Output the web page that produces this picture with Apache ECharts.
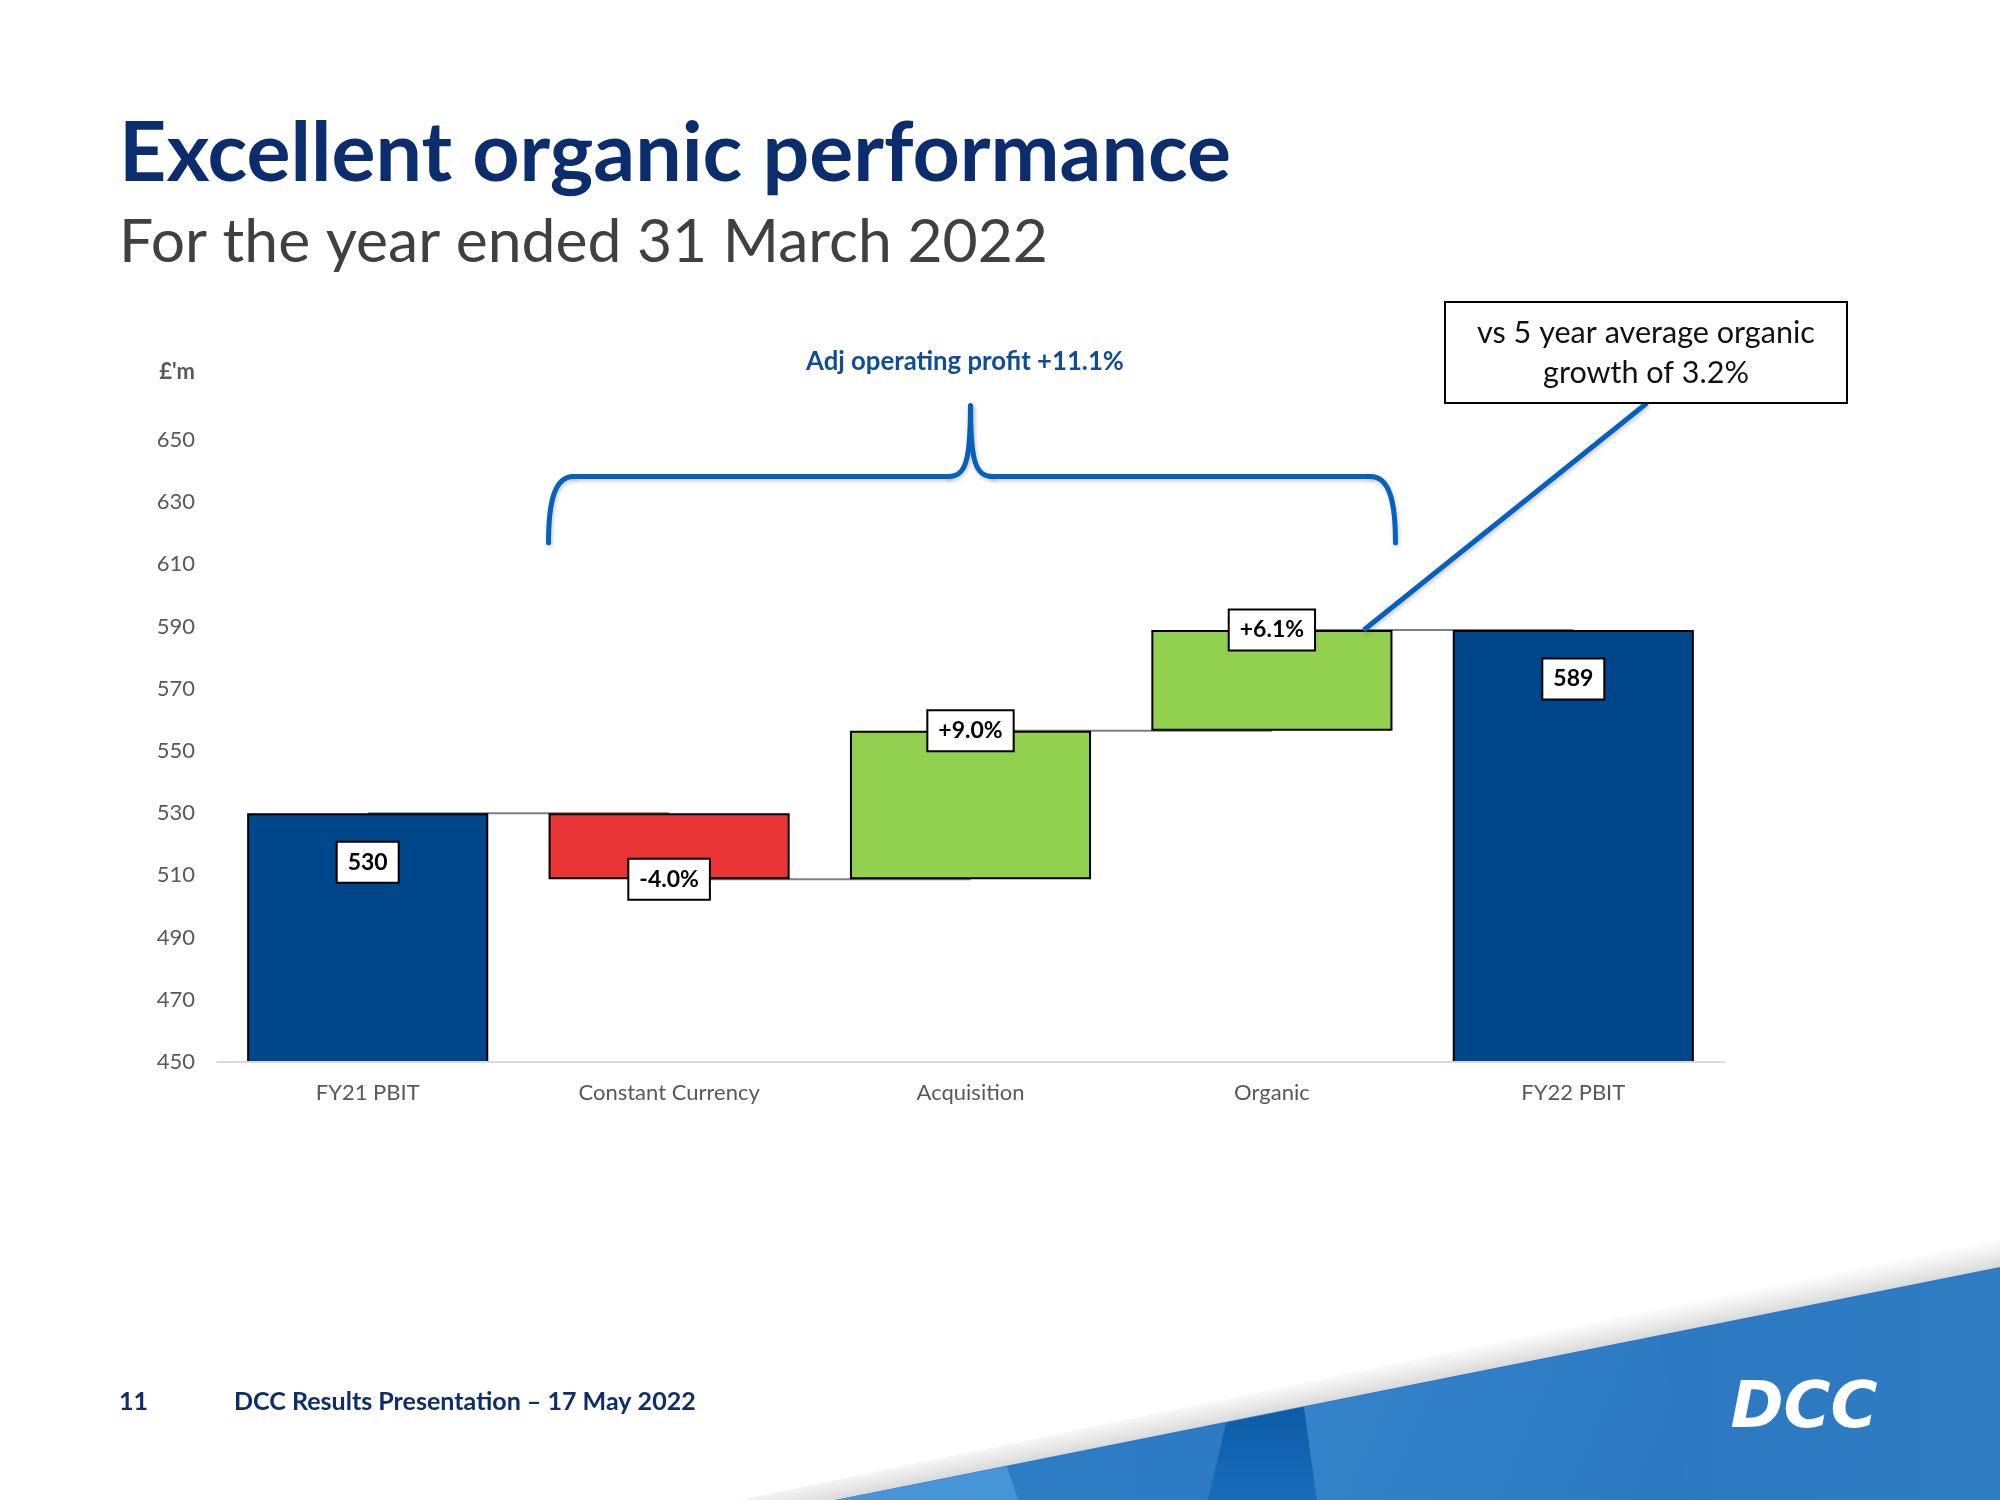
<!DOCTYPE html>
<html><head><meta charset="utf-8">
<script src="https://cdn.jsdelivr.net/npm/echarts@6/dist/echarts.min.js"></script>
<style>html,body{margin:0;padding:0;background:#fff}#c{width:2000px;height:1500px}</style>
</head><body><div id="c"></div>
<script>
// ---------------- data ----------------
const categories = ['FY21 PBIT', 'Constant Currency', 'Acquisition', 'Organic', 'FY22 PBIT'];
const openingValue = 530;                 // FY21 PBIT, £'m
const changeValues = [-21.2, 47.7, 32.4]; // Constant Currency, Acquisition, Organic
const closingValue = 588.9;               // FY22 PBIT, £'m
const barLabels = ['530', '-4.0%', '+9.0%', '+6.1%', '589'];
const yMin = 450, yMax = 650, yInterval = 20;
const unitLabel = "£'m";
const braceText = 'Adj operating profit +11.1%';
const calloutLines = ['vs 5 year average organic', 'growth of 3.2%'];
const titleText = 'Excellent organic performance';
const subtitleText = 'For the year ended 31 March 2022';
const pageNumber = '11';
const footerText = 'DCC Results Presentation \u2013 17 May 2022';

// ---------------- build waterfall ----------------
const FONT = 'Lato, "Open Sans", sans-serif';
const COL = { total: '#00468A', neg: '#E93536', pos: '#92D050' };
const placeholder = [], heights = [], kinds = [], tops = [], levels = [];
placeholder.push(0); heights.push(openingValue); kinds.push('total'); tops.push(openingValue);
let running = openingValue;
levels.push(running);
changeValues.forEach(c => {
  const next = running + c;
  placeholder.push(Math.min(running, next));
  heights.push(Math.abs(c));
  kinds.push(c < 0 ? 'neg' : 'pos');
  tops.push(Math.max(running, next));
  running = next;
  levels.push(running);
});
placeholder.push(0); heights.push(closingValue); kinds.push('total'); tops.push(closingValue);

const labelBase = {
  show: true, align: 'center', verticalAlign: 'middle',
  backgroundColor: '#fff', borderColor: '#000', borderWidth: 2,
  padding: [9, 10, 7, 10], fontSize: 23, fontWeight: 'bold', color: '#000', fontFamily: FONT
};
const visibleData = heights.map((v, i) => {
  let pos;
  if (kinds[i] === 'total') pos = ['50%', 49];
  else if (kinds[i] === 'neg') pos = ['50%', '100%'];
  else pos = ['50%', '0%'];
  return {
    value: v,
    itemStyle: { color: COL[kinds[i]] },
    label: Object.assign({}, labelBase, { position: pos, formatter: barLabels[i] })
  };
});

const chart = echarts.init(document.getElementById('c'), null, { renderer: 'canvas' });

const option = {
  backgroundColor: '#ffffff',
  animation: false,
  textStyle: { fontFamily: FONT },
  grid: { left: 217, right: 276, top: 440, bottom: 438, containLabel: false },
  xAxis: {
    type: 'category', data: categories, z: 10,
    axisLine: { lineStyle: { color: '#D9D9D9', width: 2 } },
    axisTick: { show: false },
    axisLabel: { color: '#595959', fontSize: 22, margin: 20, fontFamily: FONT }
  },
  yAxis: {
    type: 'value', min: yMin, max: yMax, interval: yInterval,
    axisLine: { show: false }, axisTick: { show: false },
    splitLine: { show: false },
    axisLabel: { color: '#595959', fontSize: 22, margin: 22, fontFamily: FONT }
  },
  series: [
    {
      type: 'custom', z: 1, silent: true,
      data: levels.map((v, i) => [i, v]),
      renderItem: function (params, api) {
        const a = api.coord([api.value(0), api.value(1)]);
        const b = api.coord([api.value(0) + 1, api.value(1)]);
        return { type: 'line', shape: { x1: a[0], y1: a[1], x2: b[0], y2: b[1] },
                 style: { stroke: '#7F7F7F', lineWidth: 2 } };
      }
    },
    {
      type: 'bar', stack: 'wf', silent: true, barCategoryGap: '20%', z: 2,
      itemStyle: { color: 'rgba(0,0,0,0)' },
      data: placeholder
    },
    {
      type: 'bar', stack: 'wf', barCategoryGap: '20%', z: 3,
      itemStyle: { borderColor: '#000', borderWidth: 2 },
      data: visibleData
    }
  ]
};
chart.setOption(option);

// ---------------- annotations ----------------
const ctx = document.createElement('canvas').getContext('2d');
function fit(text, weight, target) {
  ctx.font = weight + ' 100px ' + FONT;
  return 100 * target / ctx.measureText(text).width;
}
const px = (c, v) => chart.convertToPixel({ gridIndex: 0 }, [c, v]);
const band = px(1, yMin)[0] - px(0, yMin)[0];
const half = band * 0.4;

// brace geometry anchored to the chart scales
const xL = px(1, yMin)[0] - half, xR = px(3, yMin)[0] + half + 3, xC = px(2, yMin)[0];
const yB = px(0, 617)[1], yH = px(0, 638.3)[1], yP = px(0, 661)[1];
const braceStyle = { stroke: '#0561BE', lineWidth: 5, fill: null, lineCap: 'round',
  shadowBlur: 4, shadowOffsetX: 1, shadowOffsetY: 2, shadowColor: 'rgba(0,0,0,0.22)' };
const braceParts = [
  { type: 'bezierCurve', shape: { x1: xL, y1: yB, cpx1: xL, cpy1: yB - 41, cpx2: xL + 6, cpy2: yH, x2: xL + 25, y2: yH } },
  { type: 'line', shape: { x1: xL + 25, y1: yH, x2: xC - 22, y2: yH } },
  { type: 'bezierCurve', shape: { x1: xC - 22, y1: yH, cpx1: xC - 5, cpy1: yH, cpx2: xC, cpy2: yH - 15, x2: xC, y2: yP } },
  { type: 'bezierCurve', shape: { x1: xC, y1: yP, cpx1: xC, cpy1: yH - 15, cpx2: xC + 5, cpy2: yH, x2: xC + 22, y2: yH } },
  { type: 'line', shape: { x1: xC + 22, y1: yH, x2: xR - 25, y2: yH } },
  { type: 'bezierCurve', shape: { x1: xR - 25, y1: yH, cpx1: xR - 6, cpy1: yH, cpx2: xR, cpy2: yB - 41, x2: xR, y2: yB } }
].map(p => Object.assign(p, { z: 6, silent: true, style: Object.assign({}, braceStyle) }));

const organicTop = px(3, tops[3]);
const leaderEnd = [organicTop[0] + band * 0.305, organicTop[1]];

const titleSize = fit(titleText, 'bold', 1112);
const subSize = fit(subtitleText, 'normal', 929);
const footSize = fit(footerText, 'bold', 462);
const braceSize = fit(braceText, 'bold', 318);
const calloutSize = fit(calloutLines[0], 'normal', 338);

const box = { x: 1445, y: 302, w: 402, h: 101 };

const graphics = [
  // background swoosh
  { type: 'polygon', z: 0, silent: true,
    shape: { points: [[740, 1500], [2000, 1239], [2000, 1270], [835, 1500]] },
    style: { fill: new echarts.graphic.LinearGradient(1600, 1318, 1606, 1348,
      [{ offset: 0, color: '#FFFFFF' }, { offset: 0.55, color: '#EBEBEB' }, { offset: 1, color: '#D6D6D6' }], true) } },
  { type: 'polygon', z: 0, silent: true,
    shape: { points: [[835, 1500], [2000, 1267], [2000, 1500]] },
    style: { fill: new echarts.graphic.LinearGradient(0, 0, 1, 0,
      [{ offset: 0, color: '#2F80C8' }, { offset: 0.5, color: '#2A77C0' }, { offset: 1, color: '#2F7CC3' }]) } },
  { type: 'polygon', z: 0, silent: true,
    shape: { points: [[835, 1500], [1007, 1466], [1018, 1500]] },
    style: { fill: '#4795D6' } },
  { type: 'polygon', z: 0, silent: true,
    shape: { points: [[1226, 1423], [1304, 1407], [1317, 1500], [1208, 1500]] },
    style: { fill: new echarts.graphic.LinearGradient(0, 0, 0, 1,
      [{ offset: 0, color: '#0C5CA8' }, { offset: 1, color: '#1A6CB8' }]) } },
  { type: 'polygon', z: 0, silent: true,
    shape: { points: [[1304, 1407], [1660, 1336], [1690, 1500], [1317, 1500]] },
    style: { fill: new echarts.graphic.LinearGradient(0, 0, 1, 1,
      [{ offset: 0, color: '#3584CA' }, { offset: 1, color: '#2B78C0' }]) } },
  { type: 'text', z: 1, silent: true,
    style: { text: 'DCC', x: 1804, y: 1410, align: 'center', verticalAlign: 'middle',
      font: 'italic bold 64px "DejaVu Sans", sans-serif', fill: '#FFFFFF' } },

  // titles
  { type: 'text', z: 5, silent: true,
    style: { text: titleText, x: 119, y: 181 - 0.32 * titleSize, align: 'left', verticalAlign: 'middle',
      font: `bold ${titleSize}px ${FONT}`, fill: '#0B2D6E' } },
  { type: 'text', z: 5, silent: true,
    style: { text: subtitleText, x: 119, y: 262 - 0.32 * subSize, align: 'left', verticalAlign: 'middle',
      font: `normal ${subSize}px ${FONT}`, fill: '#404040' } },

  // unit label
  { type: 'text', z: 5, silent: true,
    style: { text: unitLabel, x: 195, y: 372, align: 'right', verticalAlign: 'middle',
      font: `bold 22px ${FONT}`, fill: '#595959' } },

  // brace label
  { type: 'text', z: 6, silent: true,
    style: { text: braceText, x: 965, y: 362, align: 'center', verticalAlign: 'middle',
      font: `bold ${braceSize}px ${FONT}`, fill: '#0F4C9A' } },

  // callout
  { type: 'line', z: 6, silent: true,
    shape: { x1: 1647, y1: box.y + box.h, x2: leaderEnd[0], y2: leaderEnd[1] },
    style: Object.assign({}, braceStyle, { lineCap: 'butt' }) },
  { type: 'rect', z: 7, silent: true,
    shape: { x: box.x, y: box.y, width: box.w, height: box.h },
    style: { fill: '#fff', stroke: '#000', lineWidth: 2 } },
  { type: 'text', z: 8, silent: true,
    style: { text: calloutLines[0], x: box.x + box.w / 2, y: 333, align: 'center', verticalAlign: 'middle',
      font: `normal ${calloutSize}px ${FONT}`, fill: '#111' } },
  { type: 'text', z: 8, silent: true,
    style: { text: calloutLines[1], x: box.x + box.w / 2, y: 373, align: 'center', verticalAlign: 'middle',
      font: `normal ${calloutSize}px ${FONT}`, fill: '#111' } },

  // footer
  { type: 'text', z: 5, silent: true,
    style: { text: pageNumber, x: 119, y: 1402, align: 'left', verticalAlign: 'middle',
      font: `bold ${footSize}px ${FONT}`, fill: '#0D2D6B' } },
  { type: 'text', z: 5, silent: true,
    style: { text: footerText, x: 234, y: 1402, align: 'left', verticalAlign: 'middle',
      font: `bold ${footSize}px ${FONT}`, fill: '#0D2D6B' } }
].concat(braceParts);
chart.setOption({ graphic: { elements: graphics } });
</script>
</body></html>
